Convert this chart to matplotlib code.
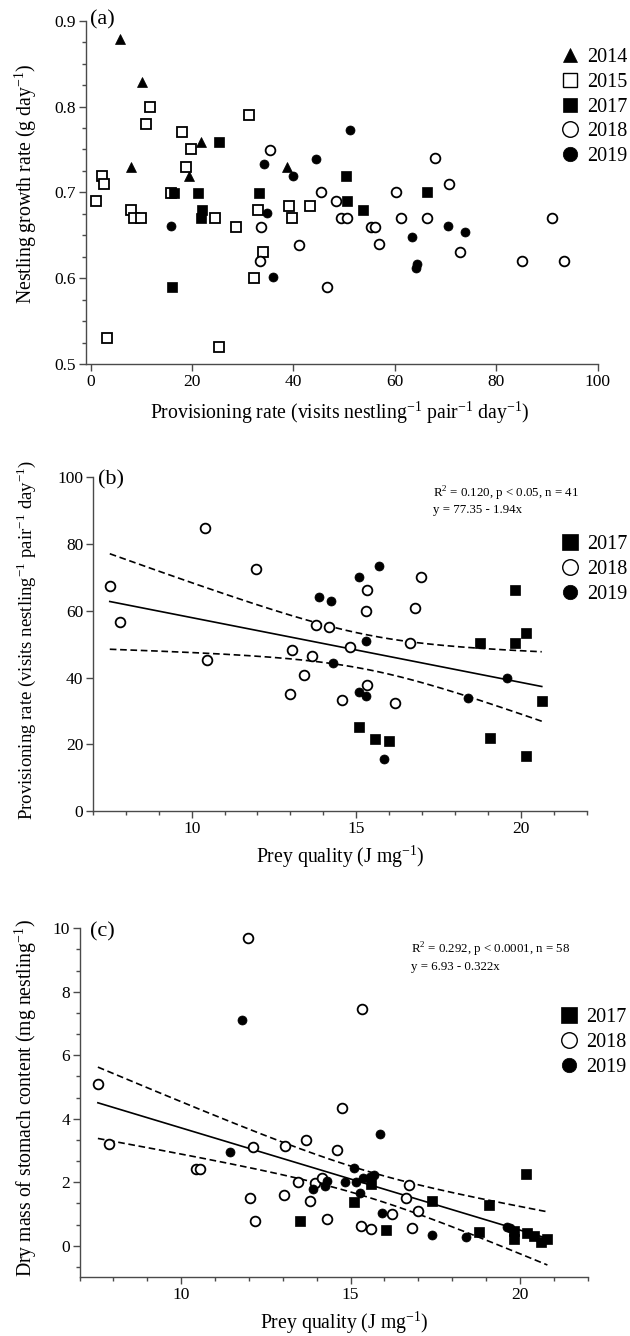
# Nestling growth / provisioning / stomach content vs prey quality — 3 panels
import numpy as np
import matplotlib
matplotlib.use('Agg')
import matplotlib.pyplot as plt
from matplotlib.ticker import MultipleLocator, FormatStrFormatter

plt.rcParams['font.family'] = ['Liberation Serif', 'DejaVu Serif']
plt.rcParams['mathtext.fontset'] = 'custom'
plt.rcParams['mathtext.rm'] = 'Liberation Serif'

# ---------------- panel (a): growth rate vs provisioning rate ----------------
a14_x = [5.8, 10.2, 7.9, 21.8, 19.3, 38.8]
a14_y = [0.879, 0.829, 0.730, 0.759, 0.719, 0.729]

a15_x = [1.1, 2.2, 2.6, 3.2, 8.0, 8.6, 9.9, 10.9, 11.8, 18.0, 19.7, 18.8,
         15.9, 24.6, 25.3, 28.6, 31.3, 32.3, 33.0, 34.0, 39.1, 39.8, 43.2]
a15_y = [0.690, 0.719, 0.710, 0.530, 0.679, 0.670, 0.670, 0.780, 0.800, 0.770, 0.750, 0.730,
         0.699, 0.670, 0.520, 0.660, 0.790, 0.600, 0.679, 0.630, 0.684, 0.670, 0.684]

a17_x = [16.4, 16.1, 21.2, 22.0, 21.7, 25.4, 33.2, 50.3, 50.5, 53.8, 66.4]
a17_y = [0.699, 0.590, 0.699, 0.679, 0.670, 0.759, 0.699, 0.719, 0.690, 0.679, 0.700]

a18_x = [33.5, 33.4, 35.3, 41.0, 45.5, 48.4, 49.3, 50.5, 46.7, 55.3, 56.1, 56.9,
         60.3, 61.2, 66.4, 67.9, 70.7, 72.8, 85.1, 90.9, 93.3]
a18_y = [0.660, 0.620, 0.749, 0.639, 0.700, 0.690, 0.670, 0.670, 0.590, 0.660, 0.660, 0.640,
         0.700, 0.670, 0.670, 0.740, 0.710, 0.630, 0.620, 0.670, 0.620]

a19_x = [15.9, 34.1, 34.7, 35.9, 40.0, 44.5, 51.2, 63.3, 64.2, 64.3, 70.5, 73.8]
a19_y = [0.661, 0.733, 0.676, 0.601, 0.719, 0.739, 0.773, 0.648, 0.612, 0.616, 0.661, 0.654]

# ---------------- panel (b): provisioning rate vs prey quality ----------------
b17_x = [15.08, 15.56, 16.01, 18.77, 19.83, 19.83, 20.17, 19.06, 20.17, 20.64]
b17_y = [25.3, 21.6, 20.9, 50.2, 66.1, 50.3, 53.4, 21.9, 16.5, 33.1]

b18_x = [7.51, 7.83, 10.39, 10.48, 11.94, 13.05, 13.00, 13.42, 13.65, 13.79,
         14.16, 14.82, 15.32, 15.30, 15.34, 14.56, 16.19, 16.63, 16.78, 16.97]
b18_y = [67.5, 56.7, 84.8, 45.3, 72.4, 48.3, 35.1, 40.8, 46.5, 55.7,
         55.1, 49.2, 66.1, 60.0, 37.8, 33.2, 32.4, 50.2, 60.9, 70.2]

b19_x = [13.86, 14.24, 14.30, 15.08, 15.68, 15.29, 15.09, 15.29, 15.84, 18.41, 19.58]
b19_y = [64.0, 62.8, 44.4, 70.2, 73.4, 51.0, 35.6, 34.5, 15.7, 34.0, 39.9]

b_coef = (77.35, -1.94)          # y = 77.35 - 1.94x
b_stats = 'R$^{\\mathregular{2}}$ = 0.120, p < 0.05, n = 41'
b_eq = 'y = 77.35 - 1.94x'

# ---------------- panel (c): stomach content vs prey quality ----------------
c17_x = [13.51, 15.09, 15.60, 16.05, 17.41, 19.08, 18.79, 20.18, 19.81, 19.83,
         20.21, 20.42, 20.62, 20.81]
c17_y = [0.77, 1.39, 1.95, 0.49, 1.41, 1.28, 0.44, 2.25, 0.47, 0.20,
         0.39, 0.30, 0.13, 0.20]

c18_x = [7.54, 7.86, 10.43, 10.54, 11.97, 12.11, 12.03, 12.17, 13.07, 13.02,
         13.69, 13.46, 13.81, 13.96, 14.17, 14.30, 14.60, 14.74, 15.33, 15.30,
         15.60, 16.23, 16.63, 16.71, 16.98, 16.81]
c18_y = [5.08, 3.21, 2.43, 2.43, 9.70, 3.10, 1.49, 0.79, 3.13, 1.61,
         3.32, 2.02, 1.42, 1.97, 2.14, 0.85, 3.01, 4.33, 7.45, 0.63,
         0.51, 0.99, 1.51, 1.91, 1.09, 0.55]

c19_x = [11.45, 11.78, 13.88, 14.23, 14.30, 14.83, 15.11, 15.17, 15.36, 15.58,
         15.70, 15.29, 15.86, 15.93, 17.40, 18.42, 19.62, 19.70]
c19_y = [2.96, 7.10, 1.79, 1.89, 2.05, 2.02, 2.44, 2.00, 2.12, 2.17,
         2.23, 1.65, 3.52, 1.04, 0.34, 0.28, 0.60, 0.55]

c_coef = (6.93, -0.322)          # y = 6.93 - 0.322x
c_stats = 'R$^{\\mathregular{2}}$ = 0.292, p < 0.0001, n = 58'
c_eq = 'y = 6.93 - 0.322x'

T95 = {41: 2.023, 58: 2.003}     # two-sided t for n-2 df

W, H = 630, 1336
fig = plt.figure(figsize=(W / 100, H / 100), dpi=100)

AX_COL = '#4a4a4a'
TICK_FS = 12.5
LAB_FS = 14.2
LEG_FS = 14.5
NOTE_FS = 9.3


def px_axes(left, top, right, bottom):
    return fig.add_axes([left / W, 1 - bottom / H, (right - left) / W, (bottom - top) / H])


def style_axes(ax):
    for s in ('top', 'right'):
        ax.spines[s].set_visible(False)
    for s in ('left', 'bottom'):
        ax.spines[s].set_color(AX_COL)
        ax.spines[s].set_linewidth(1.0)
    ax.tick_params(which='major', direction='out', length=5, width=1.0, color=AX_COL,
                   labelsize=TICK_FS, pad=2)
    ax.tick_params(which='minor', direction='out', length=3, width=1.0, color=AX_COL)


def open_style(marker, ms):
    return dict(ls='none', marker=marker, ms=ms, mfc='white', mec='black', mew=1.3)


def fill_style(marker, ms):
    return dict(ls='none', marker=marker, ms=ms, mfc='black', mec='black', mew=0.5)


def add_legend(ax, x_px, y_px):
    leg = ax.legend(loc='upper left', bbox_to_anchor=(x_px / W, 1 - y_px / H),
                    bbox_transform=fig.transFigure, frameon=False, fontsize=LEG_FS,
                    borderpad=0, borderaxespad=0, handlelength=1.0, handletextpad=0.35,
                    labelspacing=0.28, markerscale=1.6)
    for h in leg.legend_handles:
        if h.get_markerfacecolor() == 'white':
            h.set_markeredgewidth(1.0)


def fit_band(ax, xs, ys, coef):
    x = np.asarray(xs, float)
    y = np.asarray(ys, float)
    n = len(x)
    b0, b1 = coef
    res = y - (b0 + b1 * x)
    s = np.sqrt(np.sum(res ** 2) / (n - 2))
    sxx = np.sum((x - x.mean()) ** 2)
    xx = np.linspace(x.min(), x.max(), 200)
    yy = b0 + b1 * xx
    hw = T95[n] * s * np.sqrt(1 / n + (xx - x.mean()) ** 2 / sxx)
    ax.plot(xx, yy, color='black', lw=1.2, zorder=1)
    ax.plot(xx, yy + hw, color='black', lw=1.2, ls=(0, (4, 2.2)), zorder=1)
    ax.plot(xx, yy - hw, color='black', lw=1.2, ls=(0, (4, 2.2)), zorder=1)


# ---- (a)
ax = px_axes(85.6, 20.7, 597.7, 364)
style_axes(ax)
ax.plot(a14_x, a14_y, label='2014', **fill_style('^', 6.5))
ax.plot(a15_x, a15_y, label='2015', **open_style('s', 6.5))
ax.plot(a17_x, a17_y, label='2017', **fill_style('s', 6.5))
ax.plot(a18_x, a18_y, label='2018', **open_style('o', 7))
ax.plot(a19_x, a19_y, label='2019', **fill_style('o', 6.5))
ax.set_xlim(-1, 100)
ax.set_ylim(0.5, 0.9)
ax.xaxis.set_major_locator(MultipleLocator(20))
ax.yaxis.set_major_locator(MultipleLocator(0.1))
ax.yaxis.set_minor_locator(MultipleLocator(0.025))
ax.yaxis.set_major_formatter(FormatStrFormatter('%.1f'))
add_legend(ax, 560, 48)

# ---- (b)
ax = px_axes(93, 477.3, 586.5, 811)
style_axes(ax)
fit_band(ax, b17_x + b18_x + b19_x, b17_y + b18_y + b19_y, b_coef)
ax.plot(b17_x, b17_y, label='2017', **fill_style('s', 7))
ax.plot(b18_x, b18_y, label='2018', **open_style('o', 7))
ax.plot(b19_x, b19_y, label='2019', **fill_style('o', 6.5))
ax.set_xlim(7, 22)
ax.set_ylim(0, 100)
ax.xaxis.set_major_locator(MultipleLocator(5))
ax.xaxis.set_minor_locator(MultipleLocator(1))
ax.yaxis.set_major_locator(MultipleLocator(20))
add_legend(ax, 560, 535)
fig.text(433 / W, 1 - 494 / H, b_stats, fontsize=NOTE_FS, ha='left', va='center')
fig.text(433 / W, 1 - 510 / H, b_eq, fontsize=NOTE_FS, ha='left', va='center')

# ---- (c)
ax = px_axes(79.6, 928.3, 587.7, 1277.4)
style_axes(ax)
fit_band(ax, c17_x + c18_x + c19_x, c17_y + c18_y + c19_y, c_coef)
ax.plot(c17_x, c17_y, label='2017', **fill_style('s', 7))
ax.plot(c18_x, c18_y, label='2018', **open_style('o', 7))
ax.plot(c19_x, c19_y, label='2019', **fill_style('o', 6.5))
ax.set_xlim(7, 22)
ax.set_ylim(-1, 10)
ax.xaxis.set_major_locator(MultipleLocator(5))
ax.xaxis.set_minor_locator(MultipleLocator(1))
ax.yaxis.set_major_locator(MultipleLocator(2))
ax.yaxis.set_minor_locator(MultipleLocator(2 / 3))
add_legend(ax, 559, 1008)
fig.text(411 / W, 1 - 950 / H, c_stats, fontsize=NOTE_FS, ha='left', va='center')
fig.text(411 / W, 1 - 967 / H, c_eq, fontsize=NOTE_FS, ha='left', va='center')

# ---- axis titles and panel letters
sup = lambda s: '$^{\\mathregular{' + s + '}}$'
fig.text(26 / W, 1 - 184 / H, 'Nestling growth rate (g day' + sup('-1') + ')',
         rotation=90, ha='center', va='center', fontsize=LAB_FS)
fig.text(340 / W, 1 - 413 / H,
         'Provisioning rate (visits nestling' + sup('-1') + ' pair' + sup('-1') + ' day' + sup('-1') + ')',
         ha='center', va='center', fontsize=LAB_FS)
fig.text(26 / W, 1 - 640 / H,
         'Provisioning rate (visits nestling' + sup('-1') + ' pair' + sup('-1') + ' day' + sup('-1') + ')',
         rotation=90, ha='center', va='center', fontsize=13.5)
fig.text(340 / W, 1 - 857 / H, 'Prey quality (J mg' + sup('-1') + ')',
         ha='center', va='center', fontsize=LAB_FS)
fig.text(26 / W, 1 - 1098 / H, 'Dry mass of stomach content (mg nestling' + sup('-1') + ')',
         rotation=90, ha='center', va='center', fontsize=LAB_FS)
fig.text(344 / W, 1 - 1323 / H, 'Prey quality (J mg' + sup('-1') + ')',
         ha='center', va='center', fontsize=LAB_FS)

fig.text(90 / W, 1 - 20 / H, '(a)', ha='left', va='center', fontsize=16)
fig.text(98 / W, 1 - 480 / H, '(b)', ha='left', va='center', fontsize=16)
fig.text(90 / W, 1 - 932 / H, '(c)', ha='left', va='center', fontsize=16)

fig.savefig('out.png', dpi=100, facecolor='white')
